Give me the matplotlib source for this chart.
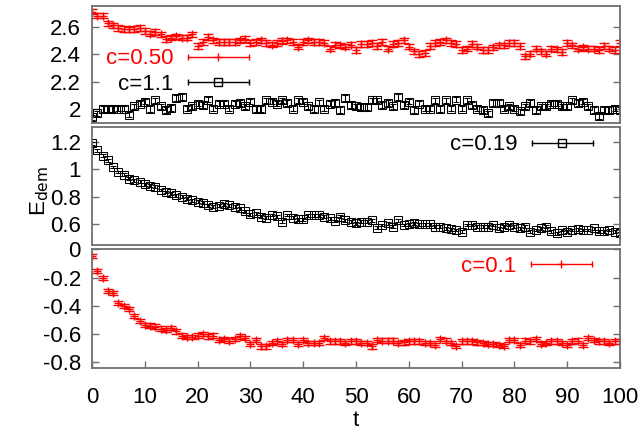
import numpy as np
import matplotlib
matplotlib.use("Agg")
import matplotlib.pyplot as plt
from matplotlib.lines import Line2D
from matplotlib.legend_handler import HandlerBase

plt.rcParams["font.family"] = ["Liberation Sans", "DejaVu Sans"]
plt.rcParams["font.size"] = 16

t = np.arange(0, 101)

# top panel
e_c050 = [2.71, 2.68, 2.68, 2.625, 2.61, 2.59, 2.585, 2.58, 2.585, 2.59,
          2.57, 2.55, 2.56, 2.545, 2.51, 2.52, 2.53, 2.52, 2.52, 2.545,
          2.46, 2.49, 2.525, 2.50, 2.49, 2.49, 2.49, 2.49, 2.50, 2.51,
          2.48, 2.49, 2.50, 2.48, 2.47, 2.48, 2.495, 2.50, 2.49, 2.455,
          2.49, 2.50, 2.49, 2.49, 2.485, 2.44, 2.47, 2.465, 2.455, 2.47,
          2.43, 2.475, 2.475, 2.48, 2.46, 2.49, 2.44, 2.475, 2.48, 2.50,
          2.455, 2.42, 2.40, 2.41, 2.46, 2.48, 2.49, 2.50, 2.48, 2.475,
          2.43, 2.44, 2.475, 2.455, 2.43, 2.43, 2.45, 2.465, 2.465, 2.48,
          2.48, 2.46, 2.385, 2.405, 2.44, 2.42, 2.405, 2.44, 2.435, 2.415,
          2.48, 2.465, 2.44, 2.45, 2.44, 2.44, 2.43, 2.46, 2.44, 2.43,
          2.48]
e_c11 = [1.94, 1.97, 2.0, 2.0, 2.0, 2.005, 2.005, 1.96, 2.02, 2.04,
         2.055, 2.0, 2.065, 2.02, 1.995, 2.01, 2.08, 2.09, 2.005, 2.02,
         2.04, 2.03, 2.07, 2.005, 2.04, 2.04, 2.005, 2.04, 2.045, 2.02,
         2.055, 2.0, 2.0, 2.065, 2.055, 2.04, 2.065, 2.045, 2.005, 2.065,
         2.055, 2.02, 2.0, 2.05, 2.005, 2.04, 2.045, 1.995, 2.08, 2.03,
         2.02, 2.015, 2.015, 2.065, 2.065, 2.03, 2.045, 2.02, 2.09, 2.03,
         2.055, 1.995, 2.04, 2.005, 2.005, 2.065, 2.0, 2.065, 2.005, 2.07,
         2.005, 2.065, 2.03, 2.005, 1.995, 1.97, 2.045, 2.045, 2.005, 2.02,
         2.005, 1.985, 2.02, 2.045, 1.995, 2.02, 2.02, 2.04, 2.04, 2.02,
         2.02, 2.065, 2.045, 2.055, 2.02, 1.995, 1.95, 1.995, 1.995, 2.005,
         1.995]

# middle panel
e_c019 = [1.19, 1.138, 1.10, 1.066, 1.017, 0.98, 0.962, 0.933, 0.921, 0.909,
          0.89, 0.88, 0.873, 0.849, 0.836, 0.825, 0.812, 0.80, 0.788, 0.776,
          0.764, 0.759, 0.74, 0.728, 0.735, 0.745, 0.74, 0.728, 0.716, 0.696,
          0.672, 0.68, 0.655, 0.65, 0.668, 0.66, 0.619, 0.668, 0.65, 0.636,
          0.636, 0.667, 0.667, 0.667, 0.655, 0.643, 0.625, 0.655, 0.631, 0.619,
          0.607, 0.619, 0.619, 0.631, 0.575, 0.595, 0.607, 0.583, 0.631, 0.595,
          0.60, 0.607, 0.60, 0.60, 0.60, 0.583, 0.583, 0.571, 0.565, 0.559,
          0.546, 0.595, 0.595, 0.583, 0.583, 0.583, 0.595, 0.571, 0.583, 0.595,
          0.583, 0.571, 0.583, 0.546, 0.559, 0.571, 0.583, 0.551, 0.535, 0.559,
          0.546, 0.559, 0.565, 0.559, 0.559, 0.571, 0.551, 0.551, 0.559, 0.546,
          0.535]

# bottom panel
e_c01 = [-0.045, -0.151, -0.20, -0.294, -0.311, -0.377, -0.40, -0.421, -0.471, -0.506,
         -0.534, -0.539, -0.546, -0.56, -0.57, -0.558, -0.581, -0.61, -0.621, -0.621,
         -0.61, -0.598, -0.616, -0.61, -0.64, -0.633, -0.645, -0.633, -0.616, -0.628,
         -0.668, -0.64, -0.687, -0.687, -0.66, -0.652, -0.668, -0.64, -0.64, -0.668,
         -0.64, -0.664, -0.664, -0.664, -0.628, -0.652, -0.652, -0.652, -0.664, -0.652,
         -0.652, -0.664, -0.664, -0.687, -0.64, -0.645, -0.645, -0.645, -0.664, -0.659,
         -0.652, -0.652, -0.652, -0.664, -0.664, -0.675, -0.635, -0.645, -0.664, -0.682,
         -0.652, -0.652, -0.652, -0.659, -0.664, -0.668, -0.668, -0.675, -0.682, -0.64,
         -0.64, -0.675, -0.645, -0.652, -0.635, -0.668, -0.664, -0.652, -0.652, -0.664,
         -0.675, -0.652, -0.645, -0.675, -0.628, -0.64, -0.652, -0.652, -0.664, -0.652,
         -0.652]

err_c050 = 0.02
err_c11 = 0.02
err_c019 = 0.01
err_c01 = 0.015

frame = "#707070"
fs = 16


class KeyHandler(HandlerBase):
    # horizontal errorbar sample: line, end caps, point in the middle
    def create_artists(self, legend, orig, xdescent, ydescent, width, height, fontsize, trans):
        y = height / 2 - ydescent
        x0, x1 = -xdescent, width - xdescent
        c = orig.get_color()
        bar = Line2D([x0, x1], [y, y], color=c, lw=1)
        caps = Line2D([x0, x1], [y, y], ls="none", marker="|", ms=5, mew=1, color=c)
        pt = Line2D([(x0 + x1) / 2], [y], ls="none", marker=orig.get_marker(),
                    ms=orig.get_markersize(), mfc="none", mec=c, mew=1)
        for a in (bar, caps, pt):
            a.set_transform(trans)
        return [bar, caps, pt]


def style(ax, ylim, yticks, ylabels):
    ax.set_xlim(0, 100)
    ax.set_ylim(*ylim)
    ax.set_yticks(yticks)
    ax.set_yticklabels(ylabels)
    for s in ax.spines.values():
        s.set_color(frame)
        s.set_linewidth(1.3)
    ax.tick_params(axis="y", direction="in", length=5, width=1, color=frame,
                   left=True, right=True, pad=8, labelsize=fs)
    ax.tick_params(axis="x", direction="in", length=5, width=1, color=frame,
                   bottom=False, top=False, labelbottom=False)


def add_key(ax, lines, labels, colors, anchor, spacing=0.0):
    leg = ax.legend(lines, labels, loc="center right", bbox_to_anchor=anchor,
                    frameon=False, markerfirst=False, borderpad=0, borderaxespad=0,
                    handlelength=61 / (fs * 100 / 72), handletextpad=0.65,
                    labelspacing=spacing, handler_map={Line2D: KeyHandler()}, fontsize=fs)
    for txt, c in zip(leg.get_texts(), colors):
        txt.set_color(c)
    return leg


fig = plt.figure(figsize=(6.42, 4.33), dpi=100)
ax1 = fig.add_axes([0.1433, 0.716, 0.8224, 0.270])
ax2 = fig.add_axes([0.1433, 0.434, 0.8224, 0.272])
ax3 = fig.add_axes([0.1433, 0.150, 0.8224, 0.274])

red_kw = dict(fmt="+", color="#ff0000", ms=5.5, mew=1, elinewidth=1, capsize=3.5, capthick=1)
blk_kw = dict(fmt="s", color="black", mfc="none", ms=6, mew=0.75, elinewidth=0.75, capsize=2, capthick=0.75)

eb_a = ax1.errorbar(t, e_c050, yerr=err_c050, **red_kw)
eb_b = ax1.errorbar(t, e_c11, yerr=err_c11, **blk_kw)
style(ax1, (1.9, 2.75), [2.0, 2.2, 2.4, 2.6], ["2", "2.2", "2.4", "2.6"])
add_key(ax1, [eb_a[0], eb_b[0]], ["c=0.50", "c=1.1"], ["#ff0000", "black"],
        (0.297, 0.44), spacing=0.2)

eb_c = ax2.errorbar(t, e_c019, yerr=err_c019, **blk_kw)
style(ax2, (0.45, 1.305), [0.6, 0.8, 1.0, 1.2], ["0.6", "0.8", "1", "1.2"])
add_key(ax2, [eb_c[0]], ["c=0.19"], ["black"], (0.948, 0.85))

eb_d = ax3.errorbar(t, e_c01, yerr=err_c01, **red_kw)
style(ax3, (-0.84, 0.0), [-0.8, -0.6, -0.4, -0.2, 0.0], ["-0.8", "-0.6", "-0.4", "-0.2", "0"])
ax3.tick_params(axis="x", bottom=True, labelbottom=True, pad=14, labelsize=fs)
ax3.set_xticks(np.arange(0, 101, 10))
ax3.set_xlabel("t", fontsize=fs, labelpad=1)
add_key(ax3, [eb_d[0]], ["c=0.1"], ["#ff0000"], (0.947, 0.86))

fig.text(0.062, 0.56, r"E$_{\rm dem}$", rotation=90, ha="center", va="center", fontsize=fs)

fig.savefig("out.png", dpi=100)
